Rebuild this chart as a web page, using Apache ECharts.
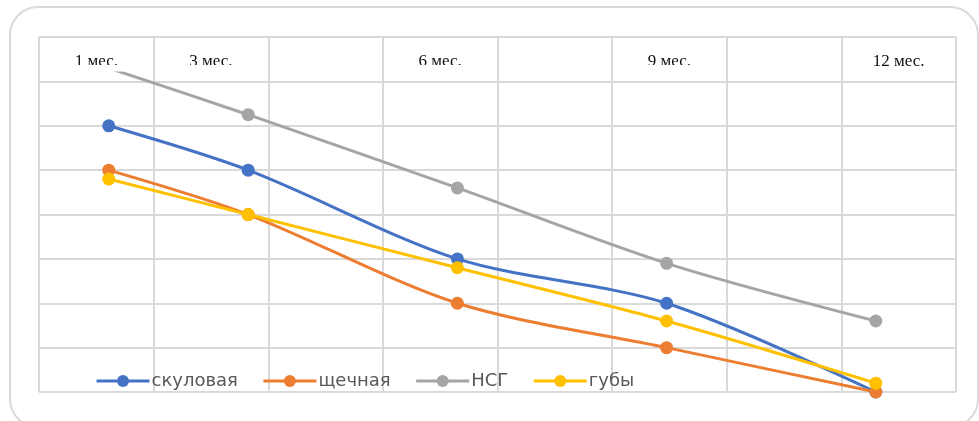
<!DOCTYPE html>
<html>
<head>
<meta charset="utf-8">
<script src="https://cdn.jsdelivr.net/npm/echarts@6/dist/echarts.min.js"></script>
<style>
  html, body { margin: 0; padding: 0; background: #fff; }
  #chart { width: 979px; height: 421px; }
</style>
</head>
<body>
<div id="chart"></div>
<script>
// данные
const months = [1, 3, 6, 9, 12];
const tableLabels = ['1 мес.', '3 мес.', '', '6 мес.', '', '9 мес.', '', '12 мес.'];
const seriesNames = ['скуловая', 'щечная', 'НСГ', 'губы'];
const skulovaya = [6, 5, 3, 2, 0];
const shchechnaya = [5, 4, 2, 1, 0];
const nsg = [7.3, 6.25, 4.6, 2.9, 1.6];
const guby = [4.8, 4, 2.8, 1.6, 0.2];
const colors = ['#4472C4', '#ED7D31', '#A5A5A5', '#FFC000'];

const chart = echarts.init(document.getElementById('chart'));

const toPairs = (vals) => vals.map((v, i) => [months[i], v]);

const makeSeries = (name, vals, color) => ({
    name: name,
    type: 'line',
    xAxisIndex: 2,
    yAxisIndex: 1,
    data: toPairs(vals),
    smooth: 0.3,
    symbol: 'circle',
    symbolSize: 13,
    clip: true,
    itemStyle: { color: color },
    lineStyle: { color: color, width: 3 },
    z: 5
});

const gridLine = { show: true, lineStyle: { color: '#d9d9d9', width: 2 } };

const options = {
    animation: false,
    grid: [
        { left: 39, right: 23, top: 37, bottom: 29 },
        { left: 39, right: 23, top: 73, bottom: 29 }
    ],
    xAxis: [
        {
            // сетка таблицы
            type: 'value', gridIndex: 0, min: 0, max: 8, interval: 1,
            axisLine: { show: false }, axisTick: { show: false }, axisLabel: { show: false },
            splitLine: gridLine, z: 3
        },
        {
            // подписи месяцев
            type: 'category', gridIndex: 0, position: 'top', data: tableLabels,
            boundaryGap: true,
            axisLine: { show: false }, axisTick: { show: false }, splitLine: { show: false },
            axisLabel: {
                inside: true, margin: 16, interval: 0,
                fontFamily: 'Liberation Serif', fontSize: 17, color: '#111'
            },
            z: 0
        },
        {
            type: 'value', gridIndex: 1, min: 0, max: 13.15, show: false
        }
    ],
    yAxis: [
        {
            type: 'value', gridIndex: 0, min: 0, max: 8, interval: 1,
            axisLine: { show: false }, axisTick: { show: false }, axisLabel: { show: false },
            splitLine: gridLine, z: 3
        },
        {
            type: 'value', gridIndex: 1, min: 0, max: 7.19, show: false
        }
    ],
    legend: {
        data: seriesNames,
        left: 95,
        top: 372,
        padding: 0,
        itemWidth: 53,
        itemHeight: 15,
        itemGap: 24,
        lineStyle: { width: 3 },
        textStyle: { fontFamily: 'DejaVu Sans', fontSize: 18, color: '#595959', padding: [0, 0, 0, -3] }
    },
    graphic: [
        {
            // белая подложка диаграммы, срезающая низ подписей
            type: 'rect',
            z: 1,
            shape: { x: 40, y: 65, width: 795, height: 8 },
            style: { fill: '#fff' },
            silent: true
        },
        {
            type: 'rect',
            z: 1,
            shape: { x: 10, y: 7, width: 968, height: 420, r: 28 },
            style: { fill: 'none', stroke: '#d9d9d9', lineWidth: 2 },
            silent: true
        }
    ],
    series: [
        makeSeries(seriesNames[0], skulovaya, colors[0]),
        makeSeries(seriesNames[1], shchechnaya, colors[1]),
        makeSeries(seriesNames[2], nsg, colors[2]),
        makeSeries(seriesNames[3], guby, colors[3])
    ]
};

chart.setOption(options);
</script>
</body>
</html>
